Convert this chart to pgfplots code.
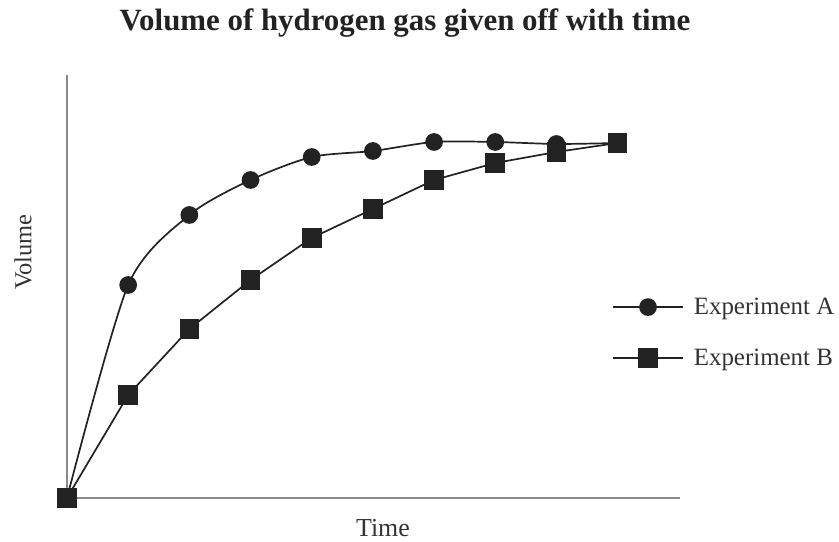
\documentclass[border=0pt]{standalone}
\usepackage{pgfplots}
\pgfplotsset{compat=1.18}
\usepackage{fontspec}
\setmainfont{Liberation Serif}
\definecolor{ink}{HTML}{222222}
\definecolor{axgray}{HTML}{8A8A8A}
\definecolor{txt}{HTML}{333333}
\begin{document}
\begin{tikzpicture}[x=1bp,y=1bp]
\path[use as bounding box] (0,0) rectangle (839,542);
\begin{axis}[
  at={(67bp,44bp)}, anchor=origin,
  width=613bp, height=423bp, scale only axis,
  xmin=0, xmax=10.02, ymin=0, ymax=423,
  axis x line=bottom, axis y line=left,
  axis line style={-, axgray, line width=1.3bp},
  xtick=\empty, ytick=\empty,
  clip=false,
  legend style={at={(rel axis cs:0.889,0.391)}, anchor=west, draw=none, fill=none,
    font=\fontsize{25}{28}\selectfont, text=txt, row sep=29bp, inner sep=0pt,
    cells={anchor=west}},
  legend cell align=left,
  legend image code/.code={\draw[#1, mark repeat=2, mark phase=2] plot coordinates {(0bp,0bp) (35bp,0bp) (70bp,0bp)}; \path (78bp,0bp);},
]
\addplot[ink, line width=1.7bp, smooth, tension=0.45, mark=*, mark size=8bp, mark options={fill=ink, draw=ink}]
coordinates {(0,0) (1,213) (2,283) (3,318) (4,341) (5,347) (6,356) (7,356) (8,354) (9,355)};
\addlegendentry{Experiment A}
\addplot[ink, line width=1.7bp, mark=square*, mark size=9bp, mark options={fill=ink, draw=ink}]
coordinates {(0,0) (1,103) (2,169) (3,218) (4,260) (5,289) (6,318) (7,335) (8,346) (9,355)};
\addlegendentry{Experiment B}
\end{axis}
\node[font=\bfseries\fontsize{31}{34}\selectfont, text=ink] at (405,519) {Volume of hydrogen gas given off with time};
\node[font=\fontsize{24.5}{28}\selectfont, text=txt, rotate=90] at (23,290) {Volume};
\node[font=\fontsize{26}{29}\selectfont, text=txt, inner sep=0pt, anchor=base] at (383,5) {Time};
\end{tikzpicture}
\end{document}
